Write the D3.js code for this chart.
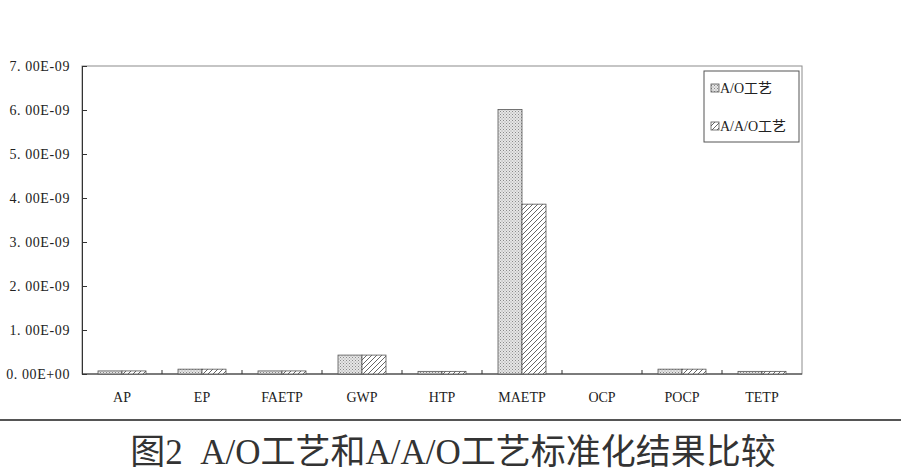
<!DOCTYPE html>
<html>
<head>
<meta charset="utf-8">
<script src="https://cdn.jsdelivr.net/npm/d3@7"></script>
<style>
  body { margin: 0; background: #fff; }
  svg { display: block; }
</style>
</head>
<body>
<div class="vis-bar"></div>
<script>
// categories and values (units of 1E-9)
const categories = ["AP", "EP", "FAETP", "GWP", "HTP", "MAETP", "OCP", "POCP", "TETP"]
const seriesNames = ["A/O工艺", "A/A/O工艺"]
const aoValues = [0.07, 0.11, 0.07, 0.43, 0.06, 6.01, 0, 0.11, 0.06]
const aaoValues = [0.07, 0.11, 0.07, 0.43, 0.06, 3.86, 0, 0.11, 0.06]
const yTicks = [0, 1, 2, 3, 4, 5, 6, 7]
const caption = "图2  A/O工艺和A/A/O工艺标准化结果比较"

const width = 901, height = 474
const margin = {left: 82, right: 99, top: 66, bottom: 100}
const serif = "'Liberation Serif', 'Noto Sans CJK SC', serif"

const svg = d3.select(".vis-bar").append("svg")
    .attr("width", width)
    .attr("height", height)

// fill patterns
const defs = svg.append("defs")
const dots = defs.append("pattern")
    .attr("id", "dots")
    .attr("patternUnits", "userSpaceOnUse")
    .attr("width", 3).attr("height", 3)
dots.append("rect").attr("width", 3).attr("height", 3).attr("fill", "#e6e6e6")
dots.append("rect").attr("width", 1).attr("height", 1).attr("fill", "#8a8a8a")
dots.append("rect").attr("x", 1.5).attr("y", 1.5).attr("width", 1).attr("height", 1).attr("fill", "#9a9a9a")

const hatch = defs.append("pattern")
    .attr("id", "hatch")
    .attr("patternUnits", "userSpaceOnUse")
    .attr("width", 5).attr("height", 5)
hatch.append("rect").attr("width", 5).attr("height", 5).attr("fill", "#fff")
hatch.append("path")
    .attr("d", "M-1,6 L6,-1 M-1,1 L1,-1 M4,6 L6,4")
    .attr("stroke", "#555").attr("stroke-width", 0.9)

const fills = ["url(#dots)", "url(#hatch)"]

const x = d3.scaleBand()
    .domain(categories)
    .range([margin.left, width - margin.right])

const xs = d3.scaleBand()
    .domain(seriesNames)
    .range([0, x.bandwidth()])
    .paddingOuter(0.667)

const y = d3.scaleLinear()
    .domain([0, 7])
    .range([height - margin.bottom, margin.top])

// plot frame
svg.append("rect")
    .attr("x", margin.left).attr("y", margin.top)
    .attr("width", width - margin.left - margin.right)
    .attr("height", y(0) - margin.top)
    .attr("fill", "none").attr("stroke", "#8c8c8c").attr("stroke-width", 1)

// y axis, inside ticks
const yAxis = svg.append("g")
    .attr("transform", `translate(${margin.left},0)`)
    .call(d3.axisRight(y).tickValues(yTicks).tickSize(5)
        .tickFormat(d => d === 0 ? "0. 00E+00" : d3.format(".2f")(d).replace(".", ". ") + "E-09"))
yAxis.select(".domain").attr("stroke", "#333")
yAxis.selectAll(".tick line").attr("stroke", "#333")
yAxis.selectAll(".tick text")
    .attr("x", -12)
    .attr("text-anchor", "end")
    .attr("font-family", serif)
    .attr("font-size", 14)
    .attr("letter-spacing", 0.6)
    .attr("fill", "#222")

// x axis with ticks at band edges
const xAxis = svg.append("g")
    .attr("transform", `translate(0,${y(0)})`)
xAxis.append("line")
    .attr("x1", margin.left).attr("x2", width - margin.right)
    .attr("stroke", "#333")
xAxis.selectAll("line.tk")
    .data(categories.slice(1))
    .join("line")
    .attr("class", "tk")
    .attr("x1", d => x(d)).attr("x2", d => x(d))
    .attr("y1", 0).attr("y2", -4)
    .attr("stroke", "#333")
xAxis.selectAll("text")
    .data(categories)
    .join("text")
    .attr("x", d => x(d) + x.bandwidth() / 2)
    .attr("y", 28)
    .attr("text-anchor", "middle")
    .attr("font-family", serif)
    .attr("font-size", 14)
    .attr("fill", "#222")
    .text(d => d)

// bars
const rows = categories.map((c, i) => ({cat: c, vals: [aoValues[i], aaoValues[i]]}))
svg.append("g").selectAll("g")
    .data(rows)
    .join("g")
    .attr("transform", d => `translate(${x(d.cat)},0)`)
    .selectAll("rect")
    .data(d => d.vals.map((v, j) => ({v, j})).filter(e => e.v > 0))
    .join("rect")
    .attr("x", d => xs(seriesNames[d.j]))
    .attr("y", d => y(d.v))
    .attr("width", xs.bandwidth())
    .attr("height", d => y(0) - y(d.v))
    .attr("fill", d => fills[d.j])
    .attr("stroke", "#555")
    .attr("stroke-width", 0.8)

// legend
const legend = svg.append("g").attr("transform", "translate(704,71)")
legend.append("rect")
    .attr("width", 95).attr("height", 71)
    .attr("fill", "#fff").attr("stroke", "#555")
const items = legend.selectAll("g")
    .data(seriesNames)
    .join("g")
    .attr("transform", (d, i) => `translate(7,${17 + i * 38})`)
items.append("rect")
    .attr("y", -4).attr("width", 8).attr("height", 8)
    .attr("fill", (d, i) => fills[i]).attr("stroke", "#555").attr("stroke-width", 0.8)
items.append("text")
    .attr("x", 9).attr("dy", "0.35em")
    .attr("font-family", serif)
    .attr("font-size", 14)
    .attr("fill", "#222")
    .text(d => d)

// caption rule and text
svg.append("line")
    .attr("x1", 0).attr("x2", width)
    .attr("y1", 420).attr("y2", 420)
    .attr("stroke", "#555").attr("stroke-width", 2)
svg.append("text")
    .attr("x", 453).attr("y", 464)
    .attr("text-anchor", "middle")
    .attr("font-family", serif)
    .attr("font-size", 35)
    .attr("fill", "#333")
    .attr("xml:space", "preserve")
    .style("white-space", "pre")
    .text(caption)
</script>
</body>
</html>
